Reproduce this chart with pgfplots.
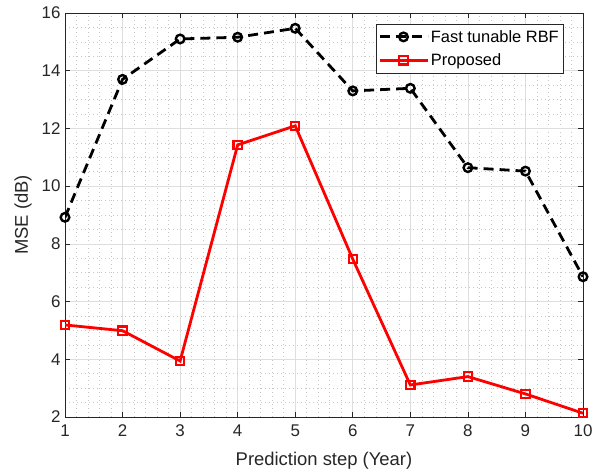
\documentclass[border=0pt]{standalone}
\usepackage{fontspec}
\setmainfont{Liberation Sans}
\usepackage{pgfplots}
\pgfplotsset{compat=1.18}

\definecolor{axgray}{gray}{0.15}
\definecolor{gridmaj}{gray}{0.87}
\definecolor{gridmin}{gray}{0.78}

\begin{document}
\begin{tikzpicture}[font=\fontsize{16.5}{19}\selectfont]
\path[use as bounding box] (0bp,0bp) rectangle (595bp,476bp);
\begin{axis}[
  at={(65bp,59bp)}, anchor=south west,
  scale only axis, width=518bp, height=404bp,
  xmin=1, xmax=10, ymin=2, ymax=16,
  xtick={1,2,...,10}, ytick={2,4,...,16},
  minor x tick num=4, minor y tick num=3,
  grid=both,
  major grid style={gridmaj, line width=0.6bp},
  minor grid style={gridmin, dash pattern=on 1bp off 3bp, line width=0.6bp},
  axis line style={axgray, line width=0.7bp},
  tick style={axgray, line width=0.7bp},
  major tick length=5bp, minor tick length=0pt,
  tick align=inside,
  /pgf/number format/assume math mode=true,
  ticklabel style={text=axgray, font=\fontsize{17}{19}\selectfont},
  xticklabel style={yshift=-4bp},
  yticklabel style={xshift=-1bp},
  xlabel={Prediction step (Year)}, ylabel={MSE (dB)},
  label style={text=axgray, font=\fontsize{18.5}{22}\selectfont},
  xlabel style={yshift=-9bp},
  ylabel style={yshift=3bp},
  legend style={at={(rel axis cs:0.600,0.973)}, anchor=north west,
    draw=axgray, line width=0.6bp, fill=white,
    font=\fontsize{16.5}{19}\selectfont, inner xsep=2bp, inner ysep=4bp, row sep=6bp},
  legend cell align=left,
  legend image code/.code={
    \draw[mark repeat=2, mark phase=2] plot coordinates {(0bp,0bp) (24bp,0bp) (48bp,0bp)};
  },
]
\addplot[black, line width=2.8bp, dash pattern=on 10bp off 6bp,
  mark=o, mark size=4.3bp, mark options={solid, line width=2.4bp}]
  coordinates {(1,8.92) (2,13.70) (3,15.10) (4,15.16) (5,15.47)
               (6,13.30) (7,13.39) (8,10.64) (9,10.52) (10,6.86)};
\addlegendentry{Fast tunable RBF}
\addplot[red, line width=2.8bp,
  mark=square, mark size=4.2bp, mark options={solid, line width=2.1bp}]
  coordinates {(1,5.19) (2,4.99) (3,3.94) (4,11.43) (5,12.09)
               (6,7.47) (7,3.11) (8,3.40) (9,2.80) (10,2.13)};
\addlegendentry{Proposed}
\end{axis}
\end{tikzpicture}
\end{document}
